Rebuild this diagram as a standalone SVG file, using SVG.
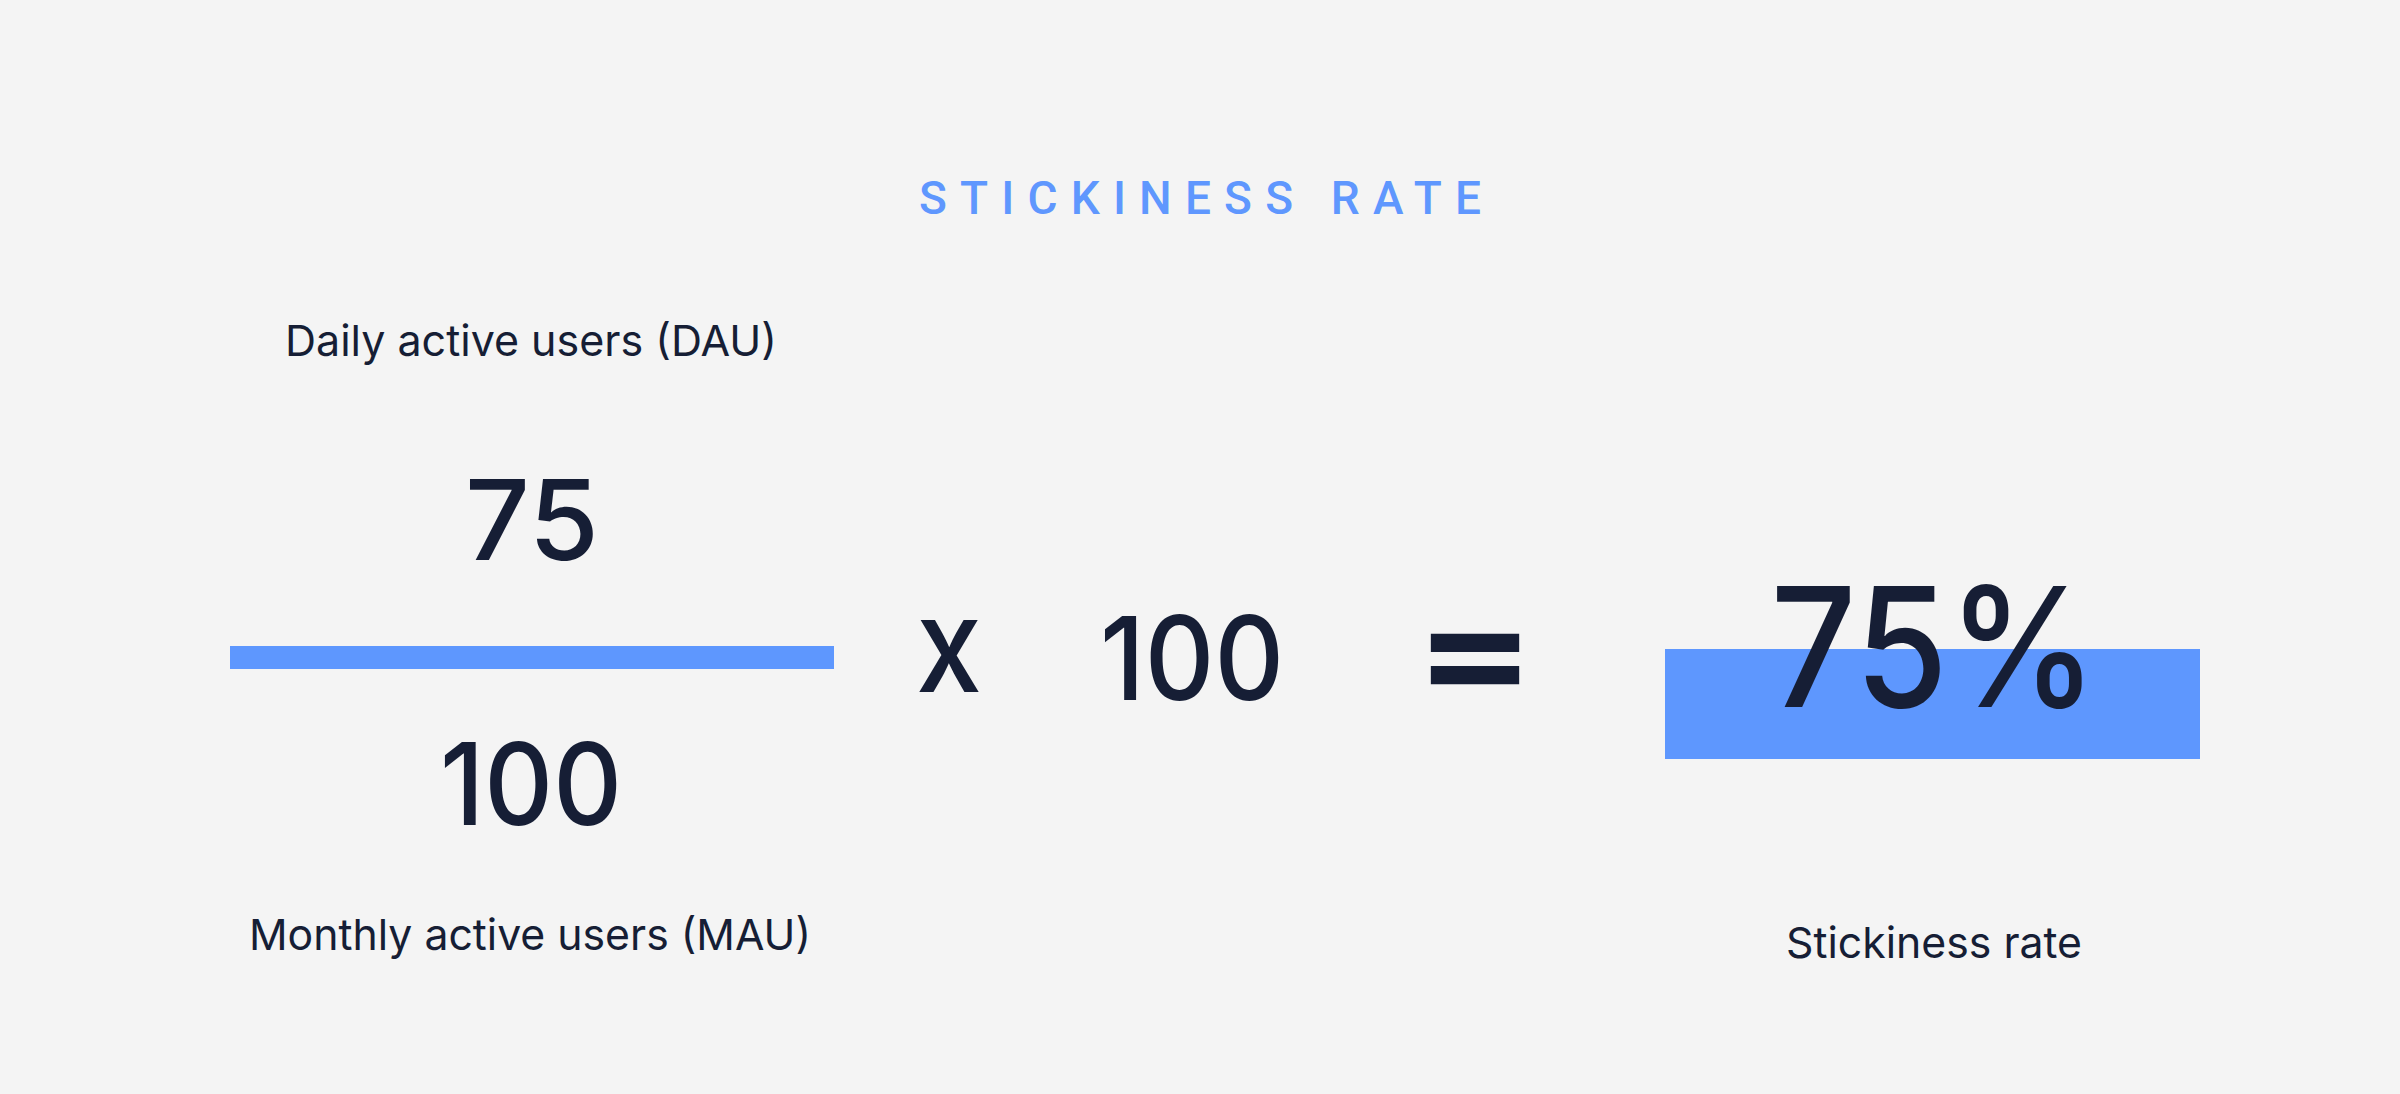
<svg xmlns="http://www.w3.org/2000/svg" width="2400" height="1094" viewBox="0 0 2400 1094">
<style>
.bg{fill:#f4f4f4}
.title{font-family:Roboto,"Liberation Sans",sans-serif;font-weight:500;font-size:46px;fill:#5f97fe}
.lbl{font-family:Inter,"Liberation Sans",sans-serif;font-weight:400;font-size:43px;fill:#161e35}
.num{font-family:Inter,"Liberation Sans",sans-serif;font-weight:500;fill:#161e35}
.blue{fill:#5e97fe}
</style>
<rect class="bg" x="0" y="0" width="2400" height="1094"/>
<g id="title">
<text class="title" x="919" y="214" textLength="562" lengthAdjust="spacing">STICKINESS RATE</text>
</g>
<g id="fraction">
<text class="lbl" x="531" y="356" text-anchor="middle" textLength="492" lengthAdjust="spacingAndGlyphs">Daily active users (DAU)</text>
<text class="num" x="532" y="560" text-anchor="middle" font-size="112" textLength="134" lengthAdjust="spacingAndGlyphs">75</text>
<rect class="blue" x="230" y="646" width="604" height="23"/>
<text class="num" x="531" y="825" text-anchor="middle" font-size="114" textLength="182" lengthAdjust="spacingAndGlyphs">100</text>
<text class="lbl" x="530" y="950" text-anchor="middle" textLength="562" lengthAdjust="spacingAndGlyphs">Monthly active users (MAU)</text>
</g>
<g id="multiplier">
<text class="num" x="949" y="692" text-anchor="middle" font-size="132" textLength="66" lengthAdjust="spacingAndGlyphs">x</text>
<text class="num" x="1192" y="699.5" text-anchor="middle" font-size="116" textLength="184" lengthAdjust="spacingAndGlyphs">100</text>
</g>
<g id="equals">
<text class="num" x="1475" y="702" text-anchor="middle" font-size="150" font-weight="900" stroke="#161e35" stroke-width="4" textLength="122" lengthAdjust="spacingAndGlyphs">=</text>
</g>
<g id="result">
<rect class="blue" x="1665" y="649" width="535" height="110"/>
<text class="num" x="1934" y="707" text-anchor="middle" font-size="166" textLength="327" lengthAdjust="spacingAndGlyphs">75%</text>
<text class="lbl" x="1934" y="958" text-anchor="middle" textLength="296" lengthAdjust="spacingAndGlyphs">Stickiness rate</text>
</g>
<g id="connectors"></g>
</svg>
